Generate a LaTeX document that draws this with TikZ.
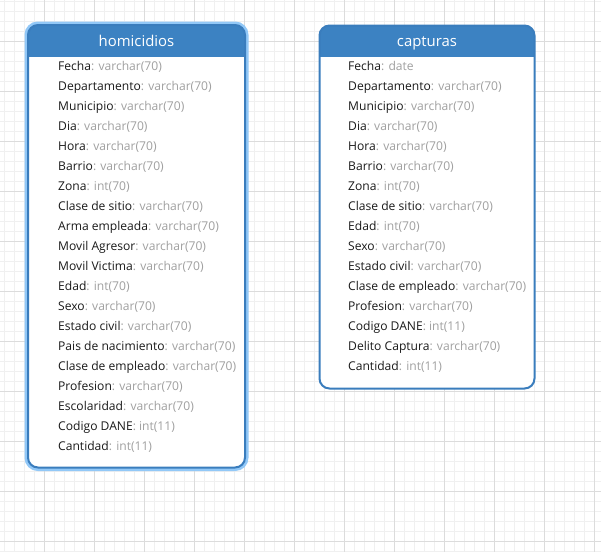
\documentclass[tikz,border=0pt]{standalone}
\usepackage{fontspec}
\setmainfont{Open Sans}
\definecolor{gridminor}{HTML}{F0F0F0}
\definecolor{gridmajor}{HTML}{DCDCDC}
\definecolor{hdrblue}{HTML}{3C82C2}
\definecolor{bordblue}{HTML}{3A7DBD}
\definecolor{glowblue}{HTML}{92C8F7}
\definecolor{typegray}{HTML}{A0A0A0}
\definecolor{namecol}{HTML}{1A1A1A}
\tikzset{
  fieldtext/.style={anchor=base west, inner sep=0pt, font=\fontsize{12.1}{14}\selectfont, text=namecol},
  headtext/.style={anchor=base, inner sep=0pt, font=\fontsize{14.9}{17}\selectfont, text=white},
  tablebox/.style={rounded corners=10pt},
}
\newcommand{\fld}[2]{#1\textcolor{typegray}{: #2}}
\begin{document}
\begin{tikzpicture}[x=1pt,y=-1pt]
\useasboundingbox (0,0) rectangle (601,552);
\fill[white] (0,0) rectangle (601,552);
% grid
\foreach \x in {4,14,...,600} \draw[gridminor, line width=1pt] (\x,0) -- (\x,552);
\foreach \y in {1.5,11.5,...,552} \draw[gridminor, line width=1pt] (0,\y) -- (601,\y);
\foreach \x in {44,94,...,600} \draw[gridmajor, line width=1pt] (\x,0) -- (\x,552);
\foreach \y in {41.5,91.5,...,552} \draw[gridmajor, line width=1pt] (0,\y) -- (601,\y);

% ---------- homicidios ----------
\draw[tablebox, glowblue, line width=7pt] (28,25) rectangle (245,467.5);
\fill[tablebox, white] (28,25) rectangle (245,467.5);
\begin{scope}
  \clip[tablebox] (28,25) rectangle (245,467.5);
  \fill[hdrblue] (28,25) rectangle (245,56.5);
\end{scope}
\draw[tablebox, bordblue, line width=2pt] (28,25) rectangle (245,467.5);
\node[headtext] (hhead) at (136.5,46) {homicidios};
\foreach \n/\t [count=\i] in {Fecha/varchar(70), Departamento/varchar(70), Municipio/varchar(70), Dia/varchar(70), Hora/varchar(70), Barrio/varchar(70), Zona/int(70), Clase de sitio/varchar(70), Arma empleada/varchar(70), Movil Agresor/varchar(70), Movil Victima/varchar(70), Edad/int(70), Sexo/varchar(70), Estado civil/varchar(70), Pais de nacimiento/varchar(70), Clase de empleado/varchar(70), Profesion/varchar(70), Escolaridad/varchar(70), Codigo DANE/int(11), Cantidad/int(11)}
  \node[fieldtext] (h\i) at (58,{50+20*\i}) {\fld{\n}{\t}};

% ---------- capturas ----------
\fill[tablebox, white] (319.5,25.5) rectangle (534.5,388.5);
\begin{scope}
  \clip[tablebox] (319.5,25.5) rectangle (534.5,388.5);
  \fill[hdrblue] (319.5,25.5) rectangle (534.5,56.5);
\end{scope}
\draw[tablebox, bordblue, line width=2pt] (319.5,25.5) rectangle (534.5,388.5);
\node[headtext] (chead) at (427,46) {capturas};
\foreach \n/\t [count=\i] in {Fecha/date, Departamento/varchar(70), Municipio/varchar(70), Dia/varchar(70), Hora/varchar(70), Barrio/varchar(70), Zona/int(70), Clase de sitio/varchar(70), Edad/int(70), Sexo/varchar(70), Estado civil/varchar(70), Clase de empleado/varchar(70), Profesion/varchar(70), Codigo DANE/int(11), Delito Captura/varchar(70), Cantidad/int(11)}
  \node[fieldtext] (c\i) at (348,{50+20*\i}) {\fld{\n}{\t}};
\end{tikzpicture}
\end{document}
